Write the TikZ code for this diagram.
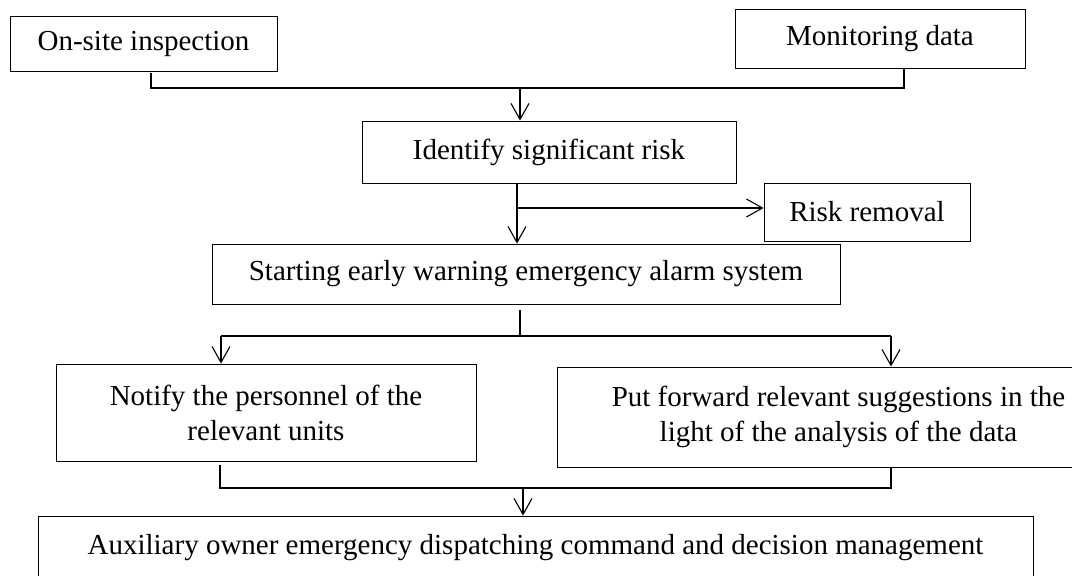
\documentclass[tikz,border=0pt]{standalone}
\usepackage{fontspec}
\setmainfont{Liberation Serif}
\usetikzlibrary{positioning, calc, arrows.meta}

\begin{document}
\begin{tikzpicture}[x=1pt, y=-1pt,
    box/.style={draw, line width=0.9pt, inner sep=0pt, align=center,
                font=\fontsize{29}{35}\selectfont},
    line/.style={line width=1.5pt},
    arr/.style={line width=1.1pt, -{Straight Barb[length=16pt,width=18pt,line width=1.1pt]}}]
                \useasboundingbox (0,0) rectangle (1072,576);

                \node[box, minimum width=267, minimum height=55] (insp) at (143.5,43.5) {On-site inspection};
                \node[box, minimum width=290, minimum height=59] (mon) at (880,38.5) {Monitoring data};
                \node[box, minimum width=374, minimum height=62] (ident) at (549,152) {Identify significant risk};
                \node[box, minimum width=206, minimum height=58] (risk) at (867,212) {Risk removal};
                \node[box, minimum width=628, minimum height=60] (start) at (526,274) {Starting early warning emergency alarm system};
                \node[box, minimum width=420, minimum height=97] (notify) at (266,412.5) {Notify the personnel of the\\relevant units};
                \node[box, minimum width=563, minimum height=100] (sugg) at (838.5,417) {Put forward relevant suggestions in the\\light of the analysis of the data};
                \node[box, minimum width=995, minimum height=64] (aux) at (535.5,548) {Auxiliary owner emergency dispatching command and decision management};

                % merge points
                \coordinate (m1) at (520,88);
                \coordinate (b1) at (517,208);
                \coordinate (s1) at (520,336);
                \coordinate (sl) at (221,336);
                \coordinate (sr) at (891,336);
                \coordinate (tl) at (220,488);
                \coordinate (tr) at (891,488);
                \coordinate (t1) at (523,488);

                \draw[line] ($(insp.south)+(7.5,2)$) |- (m1) -| ($(mon.south)+(24,0)$);
                \draw[arr] (m1) -- (m1 |- ident.north);

                \draw[arr] (b1 |- ident.south) -- (b1 |- start.north);
                \draw[arr] (b1) -- (b1 -| risk.west);

                \draw[line] ($(s1 |- start.south)+(0,6)$) -- (s1);
                \draw[line] (sl) -- (sr);
                \draw[arr] (sl) -- (sl |- notify.north);
                \draw[arr] (sr) -- (sr |- sugg.north);

                \draw[line] ($(tl |- notify.south)+(0,4)$) -- (tl) -- (tr) -- (tr |- sugg.south);
                \draw[arr] (t1) -- (t1 |- aux.north);
            \end{tikzpicture}
\end{document}
